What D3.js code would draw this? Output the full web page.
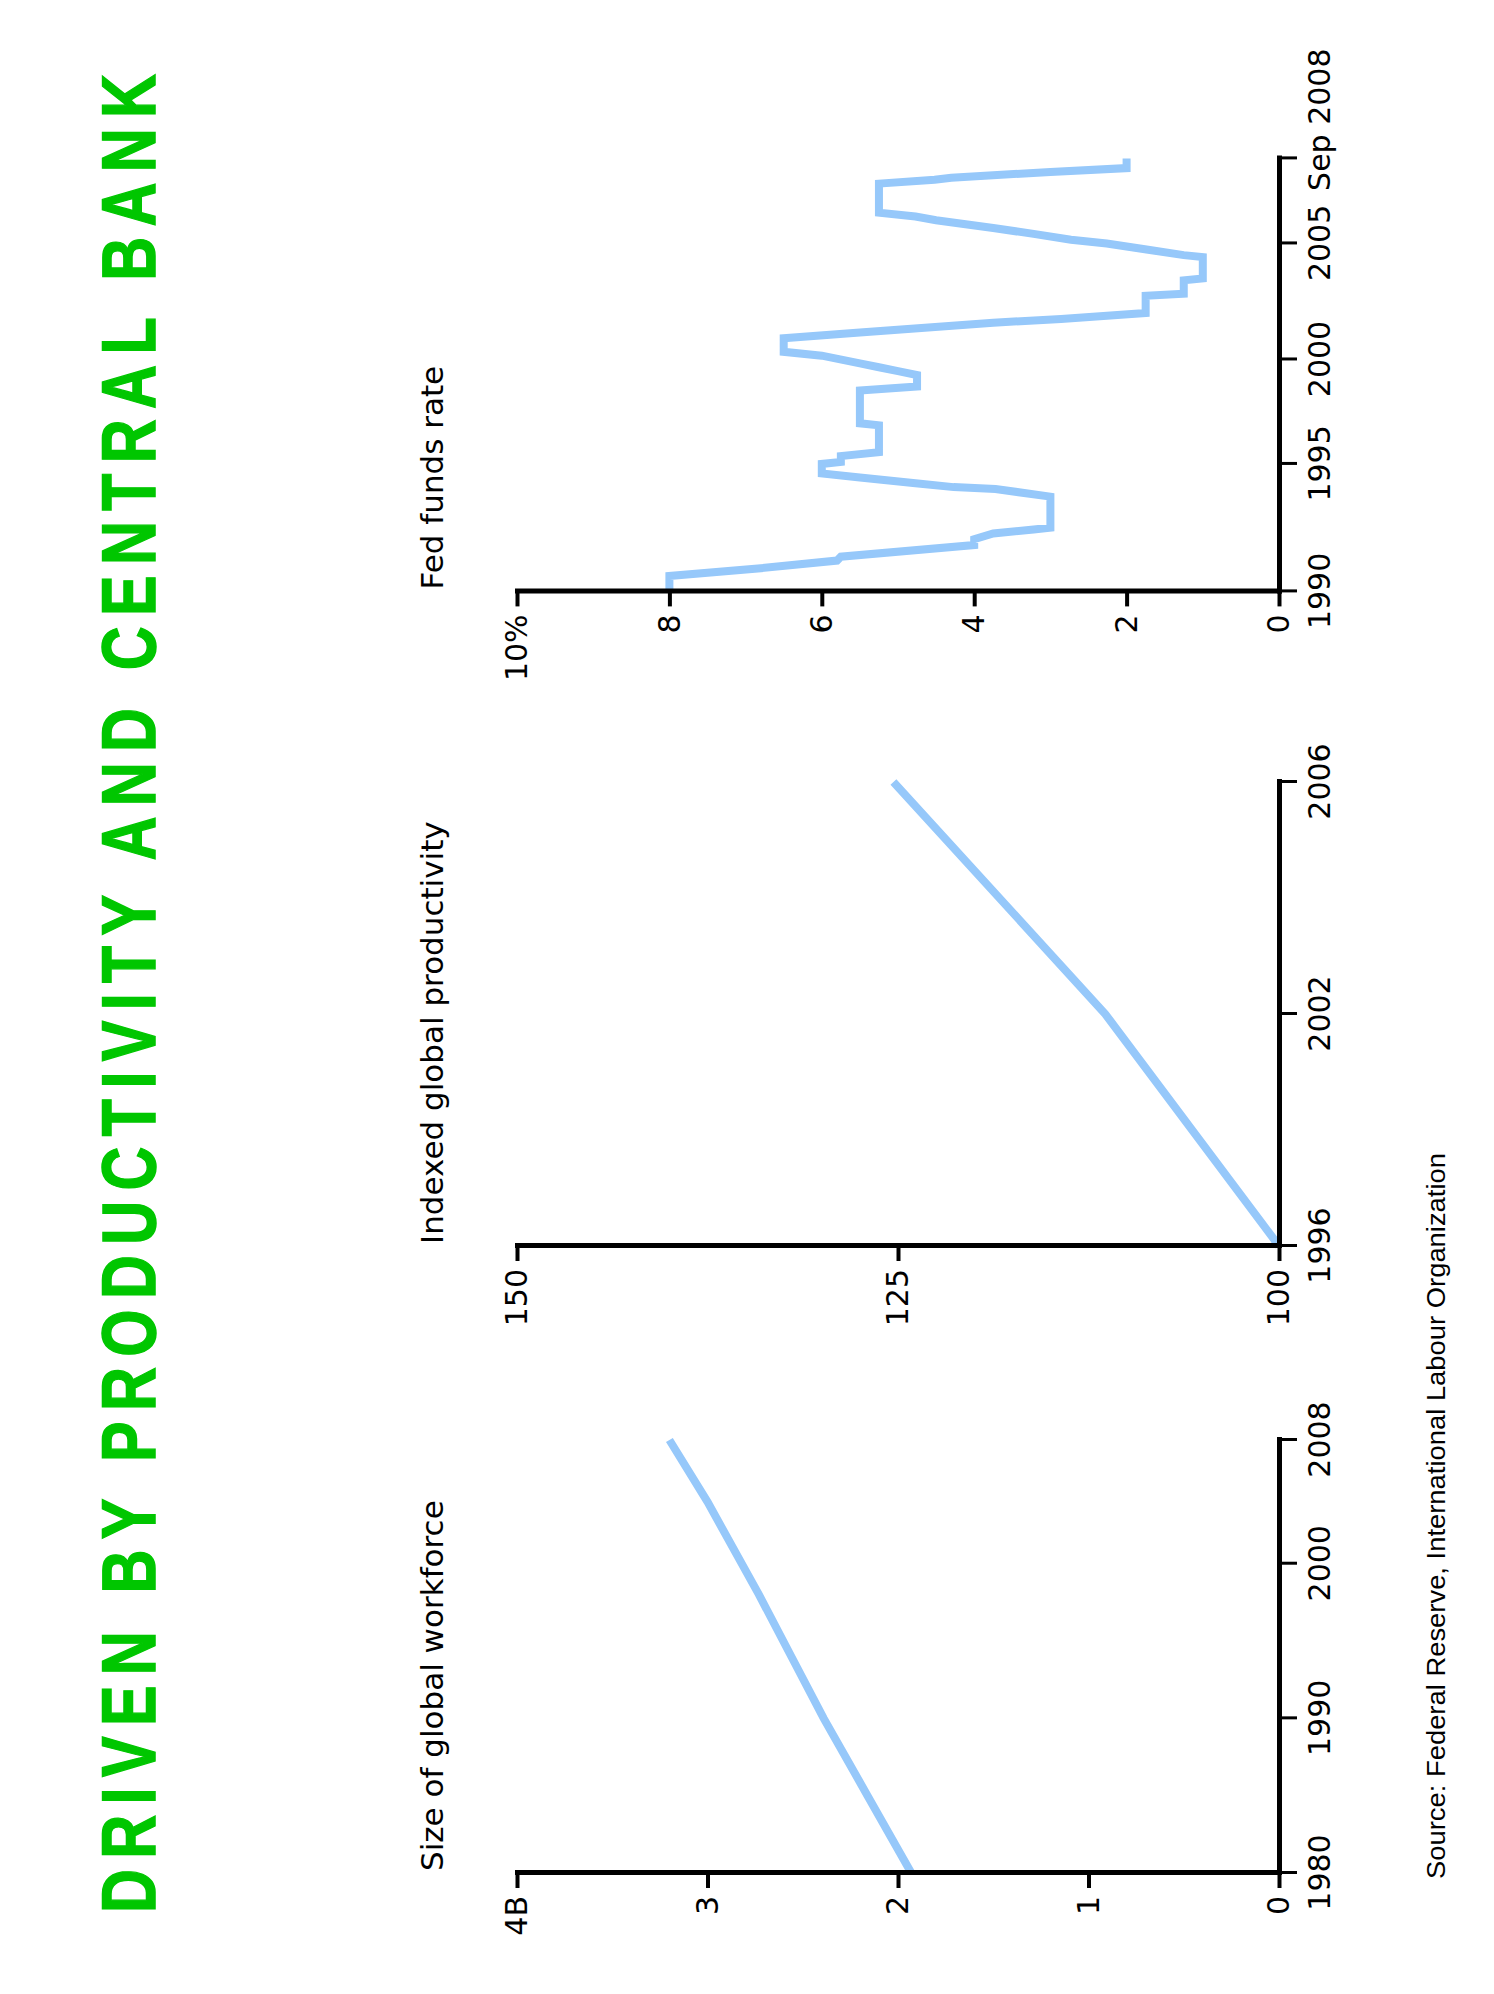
<!DOCTYPE html>
<meta charset="utf-8">
<style>
body { margin: 0; background: #fff; }
.line { fill: none; stroke: #96c8fa; stroke-width: 8px; stroke-linejoin: miter; }
.axis .domain { stroke: #000; stroke-width: 5px; stroke-linecap: square; }
.axis .tick line { stroke: #000; }
.yaxis .tick line { stroke-width: 4px; }
.xaxis .tick line { stroke-width: 3px; }
</style>
<body>
<script src="https://d3js.org/d3.v7.min.js"></script>
<script>

// chart text
var title = "DRIVEN BY PRODUCTIVITY AND CENTRAL BANK";
var source = "Source: Federal Reserve, International Labour Organization";

// size of global workforce (billions)
var workforceYears = [1980, 1985, 1990, 1994, 1998, 2004, 2008];
var workforceValues = [1.93, 2.16, 2.39, 2.56, 2.73, 3.0, 3.2];
var workforceXTicks = [1980, 1990, 2000, 2008];
var workforceXLabels = ["1980", "1990", "2000", "2008"];
var workforceYTicks = [0, 1, 2, 3, 4];
var workforceYLabels = ["0", "1", "2", "3", "4B"];

// indexed global productivity
var productivityYears = ["1996", "2002", "2006"];
var productivityValues = [100, 111.4, 125.3];
var productivityYTicks = [100, 125, 150];
var productivityYLabels = ["100", "125", "150"];

// fed funds rate (%)
var fedMonths = ["1990-01","1990-09","1991-01","1991-05","1991-07","1992-01","1992-04","1992-07","1992-09","1992-10",
  "1994-02","1994-06","1994-07","1994-09","1994-12","1995-02","1995-07","1995-08","1995-11","1996-01",
  "1997-03","1997-04","1998-09","1998-11","1999-05","1999-07","1999-09","1999-11","2000-03","2000-05",
  "2000-12","2001-03","2001-08","2001-10","2002-01","2002-10","2002-11","2003-06","2003-07","2004-06",
  "2004-07","2004-10","2005-01","2005-03","2005-06","2005-09","2006-01","2006-03","2006-05","2007-08",
  "2007-10","2007-11","2008-02","2008-04","2008-09"];
var fedRates = [8.0, 8.0, 6.8, 5.8, 5.75, 4.0, 4.0, 3.75, 3.22, 3.0,
  3.0, 3.72, 4.27, 4.77, 5.5, 6.0, 6.0, 5.75, 5.75, 5.25,
  5.25, 5.5, 5.5, 4.75, 4.75, 5.0, 5.25, 5.5, 6.0, 6.5,
  6.5, 5.5, 3.75, 2.86, 1.75, 1.75, 1.25, 1.25, 1.0, 1.0,
  1.25, 1.76, 2.26, 2.73, 3.22, 3.75, 4.5, 4.77, 5.25, 5.25,
  4.52, 4.3, 3.0, 2.0, 2.0];
var fedXTicks = ["1990-01", "1995-07", "2000-01", "2005-01", "2008-09"];
var fedXLabels = ["1990", "1995", "2000", "2005", "Sep 2008"];
var fedYTicks = [0, 2, 4, 6, 8, 10];
var fedYLabels = ["0", "2", "4", "6", "8", "10%"];

var W = 1494, H = 1994;
var plotTop = 517, plotBottom = 1279;   // value axis range (in the rotated frame)
var parseMonth = d3.timeParse("%Y-%m");

var svg = d3.select("body").append("svg")
    .attr("width", W)
    .attr("height", H);

// the whole graphic is turned a quarter turn to the left
var g = svg.append("g")
    .attr("transform", "translate(0," + H + ") rotate(-90)");

// headline, narrowed glyphs with wide spacing
var squeeze = 0.8;
g.append("text")
    .attr("transform", "translate(81,155) scale(" + squeeze + ",1)")
    .attr("font-family", "'Liberation Sans', Arial, sans-serif")
    .attr("font-weight", "bold")
    .attr("font-size", 76)
    .attr("fill", "#00c600")
    .attr("stroke", "#00c600")
    .attr("stroke-width", 1.5)
    .attr("textLength", 1839 / squeeze)
    .attr("lengthAdjust", "spacing")
    .text(title);

// source line
g.append("text")
    .attr("x", 115)
    .attr("y", 1445)
    .attr("font-family", "'Liberation Sans', sans-serif")
    .attr("font-size", 26)
    .attr("textLength", 726)
    .attr("lengthAdjust", "spacingAndGlyphs")
    .text(source);

function panel(x, y, data, xAxis, yAxis, label) {
  var left = x.range()[0];

  g.append("text")
      .attr("x", left + 2)
      .attr("y", 443)
      .attr("font-family", "'DejaVu Sans', sans-serif")
      .attr("font-size", 31)
      .text(label);

  var line = d3.line()
      .x(function(d) { return x(d[0]); })
      .y(function(d) { return y(d[1]); });

  g.append("path")
      .datum(data)
      .attr("class", "line")
      .attr("d", line);

  var gy = g.append("g")
      .attr("class", "axis yaxis")
      .attr("transform", "translate(" + left + ",0)")
      .call(yAxis.tickSize(15).tickSizeOuter(0).tickPadding(8));
  gy.attr("font-family", "'DejaVu Sans', sans-serif").attr("font-size", 30);

  var gx = g.append("g")
      .attr("class", "axis xaxis")
      .attr("transform", "translate(0," + plotBottom + ")")
      .call(xAxis.tickSize(18).tickSizeOuter(0).tickPadding(12));
  gx.attr("font-family", "'DejaVu Sans', sans-serif").attr("font-size", 30);
  return gx;
}

// 1. workforce
var x1 = d3.scaleLinear().domain([1980, 2008]).range([121, 554]);
var y1 = d3.scaleLinear().domain([0, 4]).range([plotBottom, plotTop]);
panel(x1, y1, d3.zip(workforceYears, workforceValues),
  d3.axisBottom(x1).tickValues(workforceXTicks).tickFormat(function(d, i) { return workforceXLabels[i]; }),
  d3.axisLeft(y1).tickValues(workforceYTicks).tickFormat(function(d, i) { return workforceYLabels[i]; }),
  "Size of global workforce");

// 2. productivity
var x2 = d3.scalePoint().domain(productivityYears).range([748, 1212]);
var y2 = d3.scaleLinear().domain([100, 150]).range([plotBottom, plotTop]);
panel(x2, y2, d3.zip(productivityYears, productivityValues),
  d3.axisBottom(x2),
  d3.axisLeft(y2).tickValues(productivityYTicks).tickFormat(function(d, i) { return productivityYLabels[i]; }),
  "Indexed global productivity");

// 3. fed funds rate
var x3 = d3.scaleTime().domain([parseMonth("1990-01"), parseMonth("2008-09")]).range([1402.6, 1835.6]);
var y3 = d3.scaleLinear().domain([0, 10]).range([plotBottom, plotTop]);
var gx3 = panel(x3, y3, d3.zip(fedMonths.map(parseMonth), fedRates),
  d3.axisBottom(x3).tickValues(fedXTicks.map(parseMonth)).tickFormat(function(d, i) { return fedXLabels[i]; }),
  d3.axisLeft(y3).tickValues(fedYTicks).tickFormat(function(d, i) { return fedYLabels[i]; }),
  "Fed funds rate");

// the last date label sits past its tick so it clears "2005"
gx3.selectAll(".tick text")
    .filter(function(d, i) { return i === fedXLabels.length - 1; })
    .attr("text-anchor", "start")
    .attr("x", -33);

</script>
</body>
